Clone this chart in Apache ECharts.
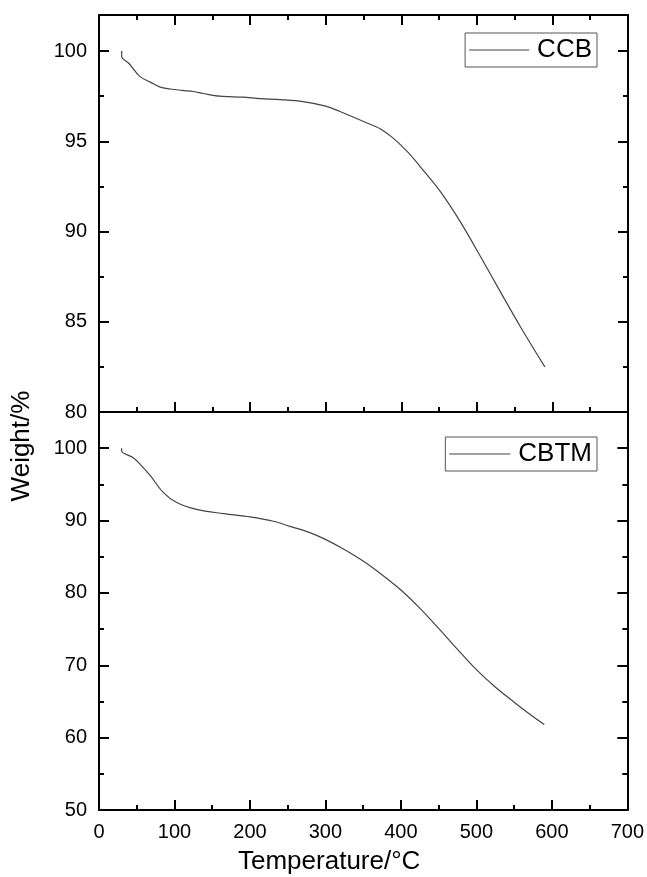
<!DOCTYPE html>
<html>
<head>
<meta charset="utf-8">
<script src="https://cdn.jsdelivr.net/npm/echarts@6/dist/echarts.min.js"></script>
<style>
html,body{margin:0;padding:0;background:#fff;}
#chart{width:647px;height:877px;}
</style>
</head>
<body>
<div id="chart"></div>
<script>
// ---- data ----
const tempCCB   = [30, 30, 40, 54, 68, 81, 94, 110, 125, 138, 160, 190, 213, 240, 270, 300, 319, 350, 372, 390, 399, 412, 425, 452, 478, 505, 531, 558, 590];
const weightCCB = [100, 99.7, 99.3, 98.6, 98.28, 98.0, 97.9, 97.82, 97.76, 97.65, 97.5, 97.45, 97.37, 97.31, 97.2, 96.95, 96.65, 96.1, 95.7, 95.15, 94.8, 94.25, 93.6, 92.2, 90.55, 88.6, 86.67, 84.7, 82.5];
const tempCBTM   = [30, 30, 45, 56, 68, 85, 103, 129, 165, 200, 231, 253, 280, 300, 325, 350, 375, 400, 425, 450, 475, 500, 525, 550, 570, 590];
const weightCBTM = [100, 99.6, 98.7, 97.6, 96.2, 93.9, 92.5, 91.55, 90.95, 90.5, 89.9, 89.2, 88.3, 87.4, 86.0, 84.4, 82.5, 80.4, 77.9, 75.1, 72.2, 69.4, 67.0, 64.9, 63.3, 61.8];
const xTicks = {min: 0, max: 700, interval: 100};
const yTicksTop = {min: 80, max: 102, interval: 5, minor: 2.5};
const yTicksBottom = {min: 50, max: 105, interval: 10, minor: 5};
const seriesNames = ['CCB', 'CBTM'];
const xTitle = 'Temperature/°C';
const yTitle = 'Weight/%';

const FONT = 'Liberation Sans, Arial, sans-serif';
const BLACK = '#000';
const LINE = '#444';

function zip(a, b) { return a.map((v, i) => [v, b[i]]); }

function xAx(grid, pos, labels, ticks) {
  return {
    type: 'value', gridIndex: grid, position: pos,
    min: xTicks.min, max: xTicks.max, interval: xTicks.interval,
    axisLine: {show: true, onZero: false, lineStyle: {color: BLACK, width: 2}},
    axisTick: {show: ticks, inside: true, length: 10, lineStyle: {color: BLACK, width: 2}},
    minorTick: {show: ticks, splitNumber: 2, length: 5, lineStyle: {color: BLACK, width: 2}},
    axisLabel: {show: labels, color: BLACK, fontSize: 20, fontFamily: FONT, margin: 12},
    splitLine: {show: false}, minorSplitLine: {show: false}
  };
}
function yAx(grid, pos, t, minor, labels) {
  return {
    type: 'value', gridIndex: grid, position: pos,
    min: t.min, max: t.max, interval: minor ? t.minor : t.interval,
    axisLine: {show: !minor, onZero: false, lineStyle: {color: BLACK, width: 2}},
    axisTick: {show: true, inside: true, length: minor ? 5 : 10, lineStyle: {color: BLACK, width: 2}},
    axisLabel: {show: labels, color: BLACK, fontSize: 20, fontFamily: FONT, margin: 12,
      formatter: v => (Math.abs((v - t.min) % t.interval) < 1e-6 ? String(v) : '')},
    splitLine: {show: false}
  };
}
function legendFor(name, top, w) {
  return {
    data: [name], right: 50, top: top, orient: 'horizontal',
    icon: 'rect', itemWidth: w, itemHeight: 1.2, itemGap: 0,
    itemStyle: {color: LINE, borderWidth: 0},
    padding: [4, 5, 4, 4], borderColor: '#555', borderWidth: 1,
    textStyle: {color: BLACK, fontSize: 26, fontFamily: FONT, padding: [0, 0, 0, 3]}
  };
}

const chart = echarts.init(document.getElementById('chart'), null, {renderer: 'canvas'});
chart.setOption({
  backgroundColor: '#fff',
  animation: false,
  grid: [
    {left: 99, right: 19, top: 15, height: 397},
    {left: 99, right: 19, top: 412, height: 398}
  ],
  xAxis: [
    xAx(0, 'bottom', false, true),
    xAx(0, 'top', false, true),
    xAx(1, 'bottom', true, true),
    xAx(1, 'top', false, false)
  ],
  yAxis: [
    yAx(0, 'left', yTicksTop, false, true),
    yAx(0, 'left', yTicksTop, true, false),
    yAx(0, 'right', yTicksTop, false, false),
    yAx(0, 'right', yTicksTop, true, false),
    yAx(1, 'left', yTicksBottom, false, true),
    yAx(1, 'left', yTicksBottom, true, false),
    yAx(1, 'right', yTicksBottom, false, false),
    yAx(1, 'right', yTicksBottom, true, false)
  ],
  legend: [legendFor(seriesNames[0], 33, 60), legendFor(seriesNames[1], 437, 61)],
  series: [
    {name: seriesNames[0], type: 'line', xAxisIndex: 0, yAxisIndex: 0,
     data: zip(tempCCB, weightCCB), symbol: 'none', smooth: 0.35,
     lineStyle: {color: LINE, width: 1.2}, itemStyle: {color: LINE}},
    {name: seriesNames[1], type: 'line', xAxisIndex: 2, yAxisIndex: 4,
     data: zip(tempCBTM, weightCBTM), symbol: 'none', smooth: 0.35,
     lineStyle: {color: LINE, width: 1.2}, itemStyle: {color: LINE}}
  ],
  graphic: [
    {type: 'text', left: 238, top: 849,
     style: {text: xTitle, fill: BLACK, font: '26px ' + FONT}},
    {type: 'text', x: 9, y: 446, rotation: Math.PI / 2,
     style: {text: yTitle, fill: BLACK, font: '26px ' + FONT, textAlign: 'center', textVerticalAlign: 'top'}}
  ]
});
</script>
</body>
</html>
